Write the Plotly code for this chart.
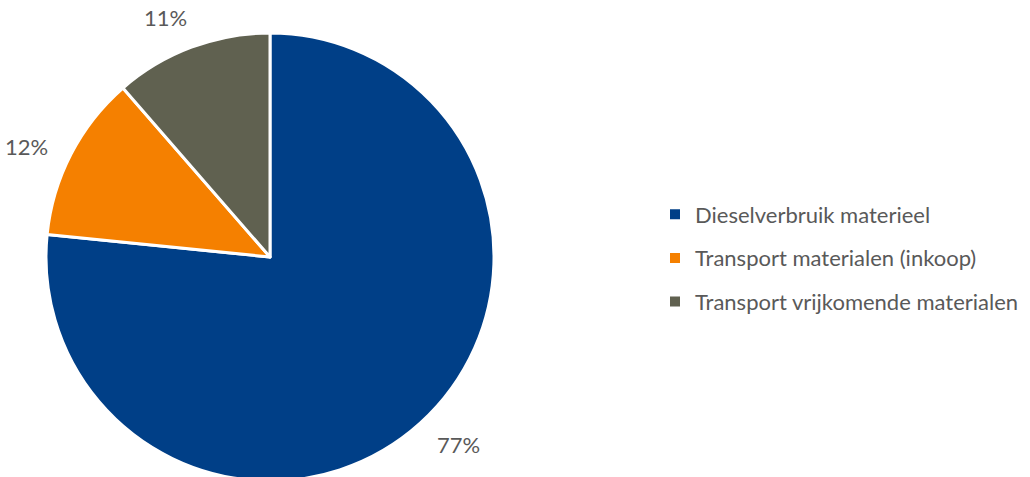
import math
import plotly.graph_objects as go

# Aandeel per bron (procent)
categories = ["Dieselverbruik materieel", "Transport materialen (inkoop)", "Transport vrijkomende materialen"]
shares = [76.6, 12.0, 11.4]
colors = ["#003F87", "#F58000", "#606150"]

W, H = 1030, 500
cx_px, cy_px, R = 270, 257, 224
font_family = "Lato, 'Open Sans', sans-serif"
text_color = "#595959"
label_size = 22

fig = go.Figure()

fig.add_trace(go.Pie(
    labels=categories,
    values=shares,
    sort=False,
    direction="clockwise",
    rotation=0,
    marker=dict(colors=colors, line=dict(color="white", width=3)),
    textinfo="none",
    hoverinfo="label+percent",
    showlegend=False,
    domain=dict(x=[(cx_px - R) / W, (cx_px + R) / W],
                y=[(H - cy_px - R) / H, (H - cy_px + R) / H]),
))

# Percentage labels outside each slice: a fixed gap beyond the rim,
# plus half the label box in the direction of the slice's mid-angle
total = sum(shares)
start = 0.0
gap = 20
box_w, box_h = 42, 20
label_turn = math.radians(-3)  # labels sit slightly counter-clockwise of the mid-angle
for val in shares:
    mid = (start + val / 2) / total * 2 * math.pi + label_turn
    start += val
    s, c = math.sin(mid), math.cos(mid)
    r_lab = R + gap + abs(s) * box_w / 2 + abs(c) * box_h / 2
    x_px = cx_px + r_lab * s
    y_px = cy_px - r_lab * c
    fig.add_annotation(
        x=x_px / W, y=(H - y_px) / H, xref="paper", yref="paper",
        text=f"{round(val / total * 100)}%", showarrow=False,
        font=dict(family=font_family, size=label_size, color=text_color),
        xanchor="center", yanchor="middle",
    )

# Legend entries (square markers)
for i, (name, col) in enumerate(zip(categories, colors)):
    fig.add_trace(go.Scatter(
        x=[None], y=[None], mode="markers", name=name,
        marker=dict(symbol="square", size=10, color=col),
        legendgroup=f"g{i}", showlegend=True,
    ))

fig.update_layout(
    width=W, height=H,
    margin=dict(l=0, r=0, t=0, b=0),
    paper_bgcolor="white", plot_bgcolor="white",
    xaxis=dict(visible=False), yaxis=dict(visible=False),
    legend=dict(
        x=655 / W, y=(H - 258) / H, xanchor="left", yanchor="middle",
        font=dict(family=font_family, size=label_size, color=text_color),
        tracegroupgap=12, itemwidth=30,
        bgcolor="rgba(0,0,0,0)",
    ),
)

fig.write_html("out.html")
